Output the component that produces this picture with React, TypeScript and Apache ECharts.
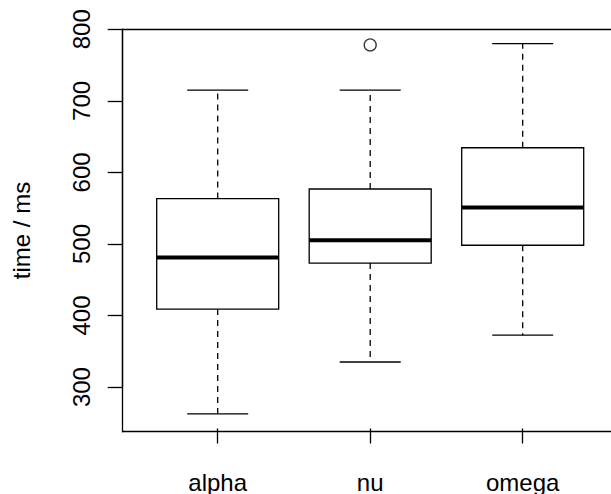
import React, { useEffect, useRef } from "react";
import * as echarts from "echarts";

const categories = ["alpha", "nu", "omega"];
const lowerWhisker = [262.6, 335.1, 372.6];
const q1 = [409.1, 473.3, 498.2];
const median = [481.2, 505.2, 550.9];
const q3 = [563.4, 576.8, 634.5];
const upperWhisker = [714.9, 714.9, 780.0];
const outlierCategory = ["nu"];
const outlierValue = [778.2];
const yTicks = { min: 300, max: 800, step: 100 };

const FONT = "Liberation Sans, Arial, Helvetica, sans-serif";

export default function App() {
  const ref = useRef<HTMLDivElement>(null);
  useEffect(() => {
    if (!ref.current) return;
    const chart = echarts.init(ref.current, null, { renderer: "svg" });
    const boxData = categories.map((_, i) => [
      i,
      lowerWhisker[i],
      q1[i],
      median[i],
      q3[i],
      upperWhisker[i],
    ]);
    const outlierData = outlierCategory.map((c, k) => [categories.indexOf(c), outlierValue[k]]);
    const lw = 1.3;
    const frameLine = { show: true, lineStyle: { color: "#000", width: lw, cap: "square" } };
    const bare = {
      axisTick: { show: false },
      axisLabel: { show: false },
      splitLine: { show: false },
    };
    chart.setOption({
      animation: false,
      backgroundColor: "#fff",
      textStyle: { fontFamily: FONT },
      grid: [
        { left: 141.45, top: 29.3, width: 457.5, height: 360.7, show: false },
        { left: 122.7, top: 29.3, width: 530, height: 402.4, show: false },
      ],
      xAxis: [
        {
          type: "category",
          gridIndex: 0,
          data: categories,
          boundaryGap: true,
          position: "bottom",
          offset: 41.4,
          axisLine: { show: false },
          axisTick: { show: true, alignWithLabel: true, length: 15, lineStyle: { color: "#000", width: lw } },
          axisLabel: { color: "#000", fontSize: 24, fontFamily: FONT, margin: 41.5 },
          splitLine: { show: false },
        },
        { type: "value", gridIndex: 1, min: 0, max: 1, position: "bottom", axisLine: frameLine, ...bare },
        { type: "value", gridIndex: 1, min: 0, max: 1, position: "top", axisLine: frameLine, ...bare },
      ],
      yAxis: [
        {
          type: "value",
          gridIndex: 0,
          min: yTicks.min,
          max: yTicks.max,
          interval: yTicks.step,
          position: "left",
          offset: 18.75,
          axisLine: { show: true, lineStyle: { color: "#000", width: lw } },
          axisTick: { show: true, length: 15, lineStyle: { color: "#000", width: lw } },
          axisLabel: { color: "#000", fontSize: 24, fontFamily: FONT, rotate: 90, margin: 29 },
          splitLine: { show: false },
        },
        {
          type: "value",
          gridIndex: 1,
          min: 0,
          max: 1,
          position: "left",
          name: "time / ms",
          nameLocation: "middle",
          nameRotate: 90,
          nameGap: 89,
          nameTextStyle: { color: "#000", fontSize: 24, fontFamily: FONT },
          axisLine: frameLine,
          ...bare,
        },
      ],
      series: [
        {
          type: "custom",
          xAxisIndex: 0,
          yAxisIndex: 0,
          clip: false,
          data: boxData,
          encode: { x: 0, y: [1, 2, 3, 4, 5] },
          renderItem: (params: any, api: any) => {
            const i = api.value(0);
            const pLo = api.coord([i, api.value(1)]);
            const pQ1 = api.coord([i, api.value(2)]);
            const pMed = api.coord([i, api.value(3)]);
            const pQ3 = api.coord([i, api.value(4)]);
            const pHi = api.coord([i, api.value(5)]);
            const band = api.size([1, 0])[0];
            const bw = band * 0.8;
            const cw = band * 0.4;
            const x = pMed[0];
            const black = "#000";
            return {
              type: "group",
              children: [
                {
                  type: "line",
                  shape: { x1: x, y1: pQ3[1], x2: x, y2: pHi[1] },
                  style: { stroke: black, lineWidth: lw, lineDash: [6, 5] },
                },
                {
                  type: "line",
                  shape: { x1: x, y1: pQ1[1], x2: x, y2: pLo[1] },
                  style: { stroke: black, lineWidth: lw, lineDash: [6, 5] },
                },
                {
                  type: "line",
                  shape: { x1: x - cw / 2, y1: pHi[1], x2: x + cw / 2, y2: pHi[1] },
                  style: { stroke: black, lineWidth: lw },
                },
                {
                  type: "line",
                  shape: { x1: x - cw / 2, y1: pLo[1], x2: x + cw / 2, y2: pLo[1] },
                  style: { stroke: black, lineWidth: lw },
                },
                {
                  type: "rect",
                  shape: { x: x - bw / 2, y: pQ3[1], width: bw, height: pQ1[1] - pQ3[1] },
                  style: { fill: "#fff", stroke: black, lineWidth: lw },
                },
                {
                  type: "line",
                  shape: { x1: x - bw / 2, y1: pMed[1], x2: x + bw / 2, y2: pMed[1] },
                  style: { stroke: black, lineWidth: 4 },
                },
              ],
            };
          },
        },
        {
          type: "scatter",
          xAxisIndex: 0,
          yAxisIndex: 0,
          data: outlierData,
          symbol: "circle",
          symbolSize: 12,
          itemStyle: { color: "#fff", borderColor: "#000", borderWidth: lw },
          clip: false,
        },
      ],
    });
    return () => chart.dispose();
  }, []);
  return (
    <div
      ref={ref}
      style={{ position: "absolute", left: 0, top: 0, width: 611, height: 494 }}
    />
  );
}
